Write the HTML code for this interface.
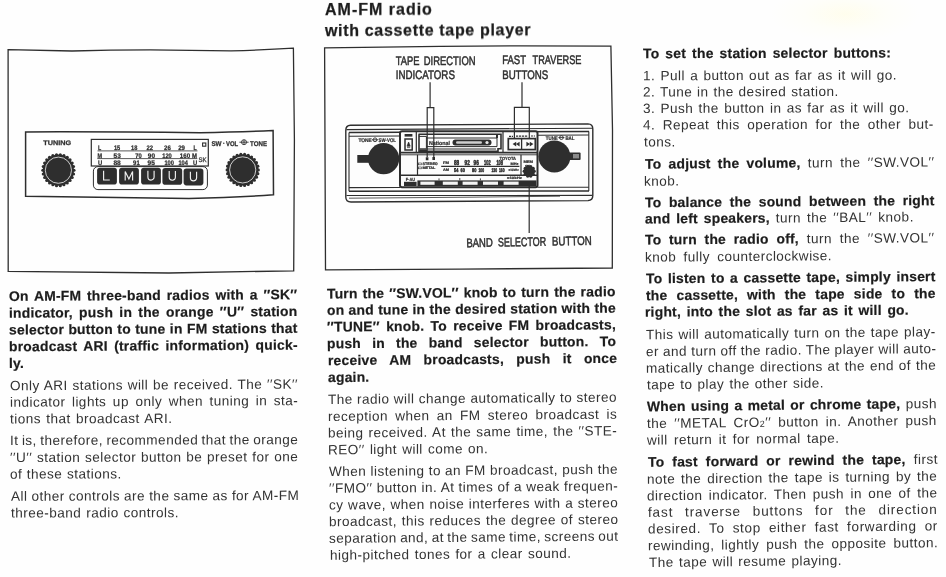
<!DOCTYPE html>
<html><head><meta charset="utf-8"><title>AM-FM radio with cassette tape player</title>
<style>
html,body{margin:0;padding:0;}
body{width:946px;height:577px;position:relative;overflow:hidden;background:#fefefe;font-family:"Liberation Sans",sans-serif;color:#333;}
.l{position:absolute;white-space:nowrap;font-size:13.6px;line-height:16px;height:16px;letter-spacing:calc(.45px + var(--d,0px));word-spacing:var(--w,.9px);}
.j{text-align:justify;text-align-last:justify;}
.l b{font-weight:bold;color:#1c1c1c;font-size:13.9px;letter-spacing:calc(.22px + var(--d,0px));-webkit-text-stroke:.2px #1c1c1c;line-height:0;}
.sub{font-size:9px;}
.h{position:absolute;left:325.3px;font-weight:bold;font-size:16px;line-height:20px;white-space:nowrap;color:#1c1c1c;transform-origin:0 15px;transform:rotate(-0.2deg);will-change:transform;-webkit-text-stroke:.25px #1c1c1c;}
svg{position:absolute;left:0;top:0;}
</style></head><body>
<div class="smudge" style="position:absolute;left:770px;top:-14px;width:150px;height:56px;background:radial-gradient(ellipse closest-side at 50% 50%,rgba(255,253,230,0.7),rgba(255,254,240,0.35) 55%,rgba(255,255,255,0) 100%);"></div>
<div class="h" style="top:-0.5px;letter-spacing:1px">AM-FM radio</div>
<div class="h" style="top:21px;letter-spacing:.67px">with cassette tape player</div>

<svg width="946" height="577" viewBox="0 0 946 577" font-family="Liberation Sans, sans-serif" style="will-change:transform" text-rendering="geometricPrecision">
<g id="leftart" fill="none" stroke="#2e2e2e" stroke-width="1.3" stroke-linejoin="miter">
<path d="M8.1,49.6 Q40,50.2 72,51 Q110,50 150,49.9 Q195,50.4 231,50.9 Q265,50 293.4,48.2 L294.4,140 L293.7,270.8 Q230,272.2 169,273 Q90,272.4 8.2,271.4 Z"/>
<path stroke-width="1.5" d="M25.6,131.9 Q110,131.6 200,132.8 Q240,132 273.1,130.6 L273.5,194.8 Q235,197.6 189,198.4 Q100,197.4 25.6,196.3 Z"/>
<rect x="91.3" y="139.4" width="117" height="26.6" stroke-width="1.2"/>
<rect x="93.4" y="166.6" width="114" height="23" rx="4.5" ry="4.5" stroke-width="1"/>
</g>
<rect x="97.1" y="167.8" width="19.8" height="16.8" rx="2.8" ry="2.8" fill="#2e2e2e"/>
<rect x="119.1" y="167.8" width="19.8" height="16.8" rx="2.8" ry="2.8" fill="#2e2e2e"/>
<rect x="141.1" y="167.8" width="19.8" height="16.8" rx="2.8" ry="2.8" fill="#2e2e2e"/>
<rect x="162.4" y="167.9" width="19.8" height="16.8" rx="2.8" ry="2.8" fill="#2e2e2e"/>
<rect x="183.6" y="168.6" width="19.8" height="16.8" rx="2.8" ry="2.8" fill="#2e2e2e"/>
<g fill="none" stroke="#f0f0f0" stroke-width="1.15" stroke-linecap="square" stroke-linejoin="miter">
<path d="M103.6,171.4 v8.6 h5.6"/>
<path d="M125.2,180.0 v-8.6 l3.7,7.6 l3.7,-7.6 v8.6"/>
<path d="M147.9,171.4 v5.6 a3.1,3.1 0 0 0 6.2,0 v-5.6"/>
<path d="M169.2,171.5 v5.6 a3.1,3.1 0 0 0 6.2,0 v-5.6"/>
<path d="M190.4,172.2 v5.6 a3.1,3.1 0 0 0 6.2,0 v-5.6"/>
</g>
<circle cx="58.4" cy="170.2" r="15.6" fill="#2e2e2e"/>
<circle cx="74.00" cy="170.20" r="1.55" fill="#2e2e2e"/>
<circle cx="73.55" cy="173.93" r="1.55" fill="#2e2e2e"/>
<circle cx="72.21" cy="177.45" r="1.55" fill="#2e2e2e"/>
<circle cx="70.08" cy="180.54" r="1.55" fill="#2e2e2e"/>
<circle cx="67.26" cy="183.04" r="1.55" fill="#2e2e2e"/>
<circle cx="63.93" cy="184.79" r="1.55" fill="#2e2e2e"/>
<circle cx="60.28" cy="185.69" r="1.55" fill="#2e2e2e"/>
<circle cx="56.52" cy="185.69" r="1.55" fill="#2e2e2e"/>
<circle cx="52.87" cy="184.79" r="1.55" fill="#2e2e2e"/>
<circle cx="49.54" cy="183.04" r="1.55" fill="#2e2e2e"/>
<circle cx="46.72" cy="180.54" r="1.55" fill="#2e2e2e"/>
<circle cx="44.59" cy="177.45" r="1.55" fill="#2e2e2e"/>
<circle cx="43.25" cy="173.93" r="1.55" fill="#2e2e2e"/>
<circle cx="42.80" cy="170.20" r="1.55" fill="#2e2e2e"/>
<circle cx="43.25" cy="166.47" r="1.55" fill="#2e2e2e"/>
<circle cx="44.59" cy="162.95" r="1.55" fill="#2e2e2e"/>
<circle cx="46.72" cy="159.86" r="1.55" fill="#2e2e2e"/>
<circle cx="49.54" cy="157.36" r="1.55" fill="#2e2e2e"/>
<circle cx="52.87" cy="155.61" r="1.55" fill="#2e2e2e"/>
<circle cx="56.52" cy="154.71" r="1.55" fill="#2e2e2e"/>
<circle cx="60.28" cy="154.71" r="1.55" fill="#2e2e2e"/>
<circle cx="63.93" cy="155.61" r="1.55" fill="#2e2e2e"/>
<circle cx="67.26" cy="157.36" r="1.55" fill="#2e2e2e"/>
<circle cx="70.08" cy="159.86" r="1.55" fill="#2e2e2e"/>
<circle cx="72.21" cy="162.95" r="1.55" fill="#2e2e2e"/>
<circle cx="73.55" cy="166.47" r="1.55" fill="#2e2e2e"/>
<circle cx="58.4" cy="170.2" r="13.1" fill="none" stroke="#f4f4f4" stroke-width="0.8"/>
<circle cx="242.7" cy="169.9" r="15.6" fill="#2e2e2e"/>
<circle cx="258.30" cy="169.90" r="1.55" fill="#2e2e2e"/>
<circle cx="257.85" cy="173.63" r="1.55" fill="#2e2e2e"/>
<circle cx="256.51" cy="177.15" r="1.55" fill="#2e2e2e"/>
<circle cx="254.38" cy="180.24" r="1.55" fill="#2e2e2e"/>
<circle cx="251.56" cy="182.74" r="1.55" fill="#2e2e2e"/>
<circle cx="248.23" cy="184.49" r="1.55" fill="#2e2e2e"/>
<circle cx="244.58" cy="185.39" r="1.55" fill="#2e2e2e"/>
<circle cx="240.82" cy="185.39" r="1.55" fill="#2e2e2e"/>
<circle cx="237.17" cy="184.49" r="1.55" fill="#2e2e2e"/>
<circle cx="233.84" cy="182.74" r="1.55" fill="#2e2e2e"/>
<circle cx="231.02" cy="180.24" r="1.55" fill="#2e2e2e"/>
<circle cx="228.89" cy="177.15" r="1.55" fill="#2e2e2e"/>
<circle cx="227.55" cy="173.63" r="1.55" fill="#2e2e2e"/>
<circle cx="227.10" cy="169.90" r="1.55" fill="#2e2e2e"/>
<circle cx="227.55" cy="166.17" r="1.55" fill="#2e2e2e"/>
<circle cx="228.89" cy="162.65" r="1.55" fill="#2e2e2e"/>
<circle cx="231.02" cy="159.56" r="1.55" fill="#2e2e2e"/>
<circle cx="233.84" cy="157.06" r="1.55" fill="#2e2e2e"/>
<circle cx="237.17" cy="155.31" r="1.55" fill="#2e2e2e"/>
<circle cx="240.82" cy="154.41" r="1.55" fill="#2e2e2e"/>
<circle cx="244.58" cy="154.41" r="1.55" fill="#2e2e2e"/>
<circle cx="248.23" cy="155.31" r="1.55" fill="#2e2e2e"/>
<circle cx="251.56" cy="157.06" r="1.55" fill="#2e2e2e"/>
<circle cx="254.38" cy="159.56" r="1.55" fill="#2e2e2e"/>
<circle cx="256.51" cy="162.65" r="1.55" fill="#2e2e2e"/>
<circle cx="257.85" cy="166.17" r="1.55" fill="#2e2e2e"/>
<circle cx="242.7" cy="169.9" r="13.1" fill="none" stroke="#f4f4f4" stroke-width="0.8"/>
<g font-family="Liberation Sans, sans-serif">
<text x="43.2" y="145.3" font-size="6.6" font-weight="bold" text-anchor="start" fill="#2e2e2e" stroke="#2e2e2e" stroke-width="0.25" textLength="27.9" lengthAdjust="spacingAndGlyphs" >TUNING</text>
<text x="211.4" y="145.8" font-size="6.8" font-weight="bold" text-anchor="start" fill="#2e2e2e" stroke="#2e2e2e" stroke-width="0.25" textLength="10.2" lengthAdjust="spacingAndGlyphs" >SW</text>
<circle cx="223.8" cy="143.2" r="0.7" fill="#2e2e2e"/>
<text x="226.0" y="145.8" font-size="6.8" font-weight="bold" text-anchor="start" fill="#2e2e2e" stroke="#2e2e2e" stroke-width="0.25" textLength="12.2" lengthAdjust="spacingAndGlyphs" >VOL</text>
<text x="250.0" y="145.8" font-size="6.8" font-weight="bold" text-anchor="start" fill="#2e2e2e" stroke="#2e2e2e" stroke-width="0.25" textLength="17.0" lengthAdjust="spacingAndGlyphs" >TONE</text>
<g stroke="#2e2e2e" fill="none" stroke-width="0.9"><circle cx="244" cy="142.2" r="2.5"/><path d="M239.4,142.2 h9.2 M244,139.9 v4.4" stroke-width="0.9"/></g>
<text x="98.1" y="149.7" font-size="6.6" font-weight="bold" text-anchor="start" fill="#2e2e2e" stroke="#2e2e2e" stroke-width="0.25" textLength="3.2" lengthAdjust="spacingAndGlyphs" >L</text>
<text x="113.9" y="149.7" font-size="6.6" font-weight="bold" text-anchor="start" fill="#2e2e2e" stroke="#2e2e2e" stroke-width="0.25" textLength="6.3" lengthAdjust="spacingAndGlyphs" >15</text>
<text x="131.0" y="149.7" font-size="6.6" font-weight="bold" text-anchor="start" fill="#2e2e2e" stroke="#2e2e2e" stroke-width="0.25" textLength="6.3" lengthAdjust="spacingAndGlyphs" >18</text>
<text x="146.4" y="149.7" font-size="6.6" font-weight="bold" text-anchor="start" fill="#2e2e2e" stroke="#2e2e2e" stroke-width="0.25" textLength="6.6" lengthAdjust="spacingAndGlyphs" >22</text>
<text x="164.0" y="149.7" font-size="6.6" font-weight="bold" text-anchor="start" fill="#2e2e2e" stroke="#2e2e2e" stroke-width="0.25" textLength="6.8" lengthAdjust="spacingAndGlyphs" >26</text>
<text x="178.2" y="149.7" font-size="6.6" font-weight="bold" text-anchor="start" fill="#2e2e2e" stroke="#2e2e2e" stroke-width="0.25" textLength="6.8" lengthAdjust="spacingAndGlyphs" >29</text>
<text x="193.6" y="149.7" font-size="6.6" font-weight="bold" text-anchor="start" fill="#2e2e2e" stroke="#2e2e2e" stroke-width="0.25" textLength="3.2" lengthAdjust="spacingAndGlyphs" >L</text>
<text x="97.6" y="157.5" font-size="6.6" font-weight="bold" text-anchor="start" fill="#2e2e2e" stroke="#2e2e2e" stroke-width="0.25" textLength="4.6" lengthAdjust="spacingAndGlyphs" >M</text>
<text x="113.6" y="157.5" font-size="6.6" font-weight="bold" text-anchor="start" fill="#2e2e2e" stroke="#2e2e2e" stroke-width="0.25" textLength="7.2" lengthAdjust="spacingAndGlyphs" >53</text>
<text x="135.2" y="157.5" font-size="6.6" font-weight="bold" text-anchor="start" fill="#2e2e2e" stroke="#2e2e2e" stroke-width="0.25" textLength="6.5" lengthAdjust="spacingAndGlyphs" >70</text>
<text x="147.8" y="157.5" font-size="6.6" font-weight="bold" text-anchor="start" fill="#2e2e2e" stroke="#2e2e2e" stroke-width="0.25" textLength="7.2" lengthAdjust="spacingAndGlyphs" >90</text>
<text x="162.2" y="157.5" font-size="6.6" font-weight="bold" text-anchor="start" fill="#2e2e2e" stroke="#2e2e2e" stroke-width="0.25" textLength="9.6" lengthAdjust="spacingAndGlyphs" >120</text>
<text x="179.8" y="157.5" font-size="6.6" font-weight="bold" text-anchor="start" fill="#2e2e2e" stroke="#2e2e2e" stroke-width="0.25" textLength="10.3" lengthAdjust="spacingAndGlyphs" >160</text>
<text x="191.9" y="157.5" font-size="6.6" font-weight="bold" text-anchor="start" fill="#2e2e2e" stroke="#2e2e2e" stroke-width="0.25" textLength="5.0" lengthAdjust="spacingAndGlyphs" >M</text>
<text x="98.0" y="165.0" font-size="6.6" font-weight="bold" text-anchor="start" fill="#2e2e2e" stroke="#2e2e2e" stroke-width="0.25" textLength="4.2" lengthAdjust="spacingAndGlyphs" >U</text>
<text x="113.4" y="165.0" font-size="6.6" font-weight="bold" text-anchor="start" fill="#2e2e2e" stroke="#2e2e2e" stroke-width="0.25" textLength="7.4" lengthAdjust="spacingAndGlyphs" >88</text>
<text x="133.1" y="165.0" font-size="6.6" font-weight="bold" text-anchor="start" fill="#2e2e2e" stroke="#2e2e2e" stroke-width="0.25" textLength="6.6" lengthAdjust="spacingAndGlyphs" >91</text>
<text x="147.5" y="165.0" font-size="6.6" font-weight="bold" text-anchor="start" fill="#2e2e2e" stroke="#2e2e2e" stroke-width="0.25" textLength="7.3" lengthAdjust="spacingAndGlyphs" >95</text>
<text x="164.4" y="165.0" font-size="6.6" font-weight="bold" text-anchor="start" fill="#2e2e2e" stroke="#2e2e2e" stroke-width="0.25" textLength="9.6" lengthAdjust="spacingAndGlyphs" >100</text>
<text x="178.4" y="165.0" font-size="6.6" font-weight="bold" text-anchor="start" fill="#2e2e2e" stroke="#2e2e2e" stroke-width="0.25" textLength="9.4" lengthAdjust="spacingAndGlyphs" >104</text>
<text x="192.9" y="165.0" font-size="6.6" font-weight="bold" text-anchor="start" fill="#2e2e2e" stroke="#2e2e2e" stroke-width="0.25" textLength="4.2" lengthAdjust="spacingAndGlyphs" >U</text>
<text x="198.5" y="161.9" font-size="6.6" font-weight="normal" text-anchor="start" fill="#2e2e2e" stroke="#2e2e2e" stroke-width="0.25" textLength="8.2" lengthAdjust="spacingAndGlyphs" >SK</text>
</g>
<g stroke="#2e2e2e" stroke-width="0.8" fill="none"><path d="M97.5,150.9 H197.5 M97.3,158.6 H197.3"/><rect x="202.6" y="143" width="3.2" height="3.2" stroke-width="1.1"/></g>
<g id="midart" fill="none" stroke="#2e2e2e" stroke-width="1.3">
<path d="M324.6,47.8 L440,46.3 L520,45.8 L610.9,46.2 L612.5,130 L612.3,268 L460,269.1 L325.5,269.8 Z"/>
</g>
<g fill="none" stroke="#2e2e2e" stroke-width="1.1">
<path fill="#fdfdfd" stroke-width="1.4" d="M350.5,125.3 L588,123.9 Q592.8,124 592.8,129 L592.8,195.5 Q592.8,200.4 588,200.6 L351,202 Q345.8,202 345.8,197 L345.8,130.5 Q345.8,125.4 350.5,125.3 Z"/>
<path d="M346.5,129.6 L592,128.2"/>
<path stroke-width="1.5" d="M349,132.5 L589,131.4"/>
<path d="M349,136.2 L400,136 M537.5,135.2 L588.8,135"/>
<path d="M349,187.6 L400,187.5 M537.5,187.3 L588.8,187.2"/>
<path stroke-width="1.5" d="M349,191.2 L589,190.9"/>
<path d="M346.5,195.5 L592,195.4"/>
<path stroke-width="0.8" d="M349,198.2 L470,197.2 L560,196.2"/>
<path d="M349,132.5 V191.2 M588.8,131.4 V190.9"/>
</g>
<g fill="#2e2e2e" stroke="none">
<rect x="357.3" y="155" width="14" height="7.8"/>
<circle cx="383.6" cy="158.7" r="15.6"/>
<circle cx="554.4" cy="156.5" r="16"/>
<rect x="566" y="152.5" width="14.6" height="7.4" rx="1"/>
<rect x="573" y="154" width="6" height="4.4" fill="#8a8a8a"/>
</g>
<g stroke="#2e2e2e" fill="none">
<rect x="400" y="131.2" width="137.5" height="56" rx="2" fill="#fcfcfc" stroke-width="2"/>
<path stroke-width="1.6" d="M400,152.6 H537.5"/>
<path stroke-width="0.9" d="M400,154.8 H537.5"/>
<path stroke-width="1.4" d="M400,175.2 H537.5"/>
<path stroke-width="1.2" d="M416.3,131.2 V152 M417.5,154.8 V175 M503,131.2 V152.6 M521,154.8 V175.2"/>
<rect x="404.6" y="134" width="7.8" height="2.6" fill="#2e2e2e" stroke="none"/>
<rect x="405" y="139" width="7.2" height="11" stroke-width="1.5"/>
<path d="M408.6,142 l1.6,4.2 h-3.2 z M407,147.6 h3.2" fill="#2e2e2e" stroke-width="0.7"/>
<path stroke-width="1.6" d="M418.5,134.2 H501 V148.8 H498 V151.2 H419 V134.2"/>
<path stroke-width="1" d="M419,136.4 H426.4 V148.8 H419.5 M426.4,138 H497 V146.6 H426.4 M427,149 H496"/>
<path stroke-width="2" d="M419.6,150.2 H427 M497,134.8 V138"/>
</g>
<text x="429.0" y="145.0" font-size="5.6" font-weight="bold" fill="#2e2e2e" textLength="21.0" lengthAdjust="spacingAndGlyphs"  stroke="#2e2e2e" stroke-width="0.22">National</text>
<rect x="452.5" y="139.6" width="39" height="5.8" rx="2.9" fill="#2e2e2e"/>
<rect x="456" y="141.2" width="26" height="2.6" rx="1.3" fill="#cfcfcf"/>
<circle cx="487" cy="142.5" r="1.6" fill="#e8e8e8"/>
<g stroke="#2e2e2e" fill="none">
<rect x="508.3" y="138.6" width="27" height="11" stroke-width="1.7"/>
<path stroke-width="1.3" d="M521.6,138.6 V149.6"/>
<path stroke="none" fill="#2e2e2e" d="M516.2,141.8 v4.6 l-3.6,-2.3z M519.6,141.8 v4.6 l-3.6,-2.3z M526.4,141.8 v4.6 l3.6,-2.3z M529.8,141.8 v4.6 l3.6,-2.3z"/>
<path stroke-width="1.2" d="M509,136.4 h4 M516,136.2 h12 M531,136 h4" stroke-dasharray="2.2 0.8"/>
</g>
<path d="M425.8,157.2 h2.6 v3 h-2.6z M432.4,157 h2.6 v3 h-2.6z" fill="#2e2e2e"/>
<rect x="418.6" y="163" width="3" height="1.8" fill="none" stroke="#2e2e2e" stroke-width="0.6"/>
<rect x="418.6" y="167" width="3" height="1.8" fill="none" stroke="#2e2e2e" stroke-width="0.6"/>
<text x="422.4" y="165.4" font-size="3.6" font-weight="bold" fill="#2e2e2e" textLength="15.4" lengthAdjust="spacingAndGlyphs"  stroke="#2e2e2e" stroke-width="0.22">STEREO</text>
<text x="422.4" y="169.4" font-size="3.6" font-weight="bold" fill="#2e2e2e" textLength="13.0" lengthAdjust="spacingAndGlyphs"  stroke="#2e2e2e" stroke-width="0.22">METAL</text>
<text x="443.0" y="164.4" font-size="3.8" font-weight="bold" fill="#2e2e2e" textLength="6.0" lengthAdjust="spacingAndGlyphs"  stroke="#2e2e2e" stroke-width="0.22">FM</text>
<text x="454.0" y="164.8" font-size="7.2" font-weight="bold" fill="#2e2e2e" textLength="5.2" lengthAdjust="spacingAndGlyphs"  stroke-width="0.55" stroke="#2e2e2e">88</text>
<text x="464.6" y="164.8" font-size="7.2" font-weight="bold" fill="#2e2e2e" textLength="5.2" lengthAdjust="spacingAndGlyphs"  stroke-width="0.55" stroke="#2e2e2e">92</text>
<text x="473.6" y="164.8" font-size="7.2" font-weight="bold" fill="#2e2e2e" textLength="5.2" lengthAdjust="spacingAndGlyphs"  stroke-width="0.55" stroke="#2e2e2e">96</text>
<text x="484.0" y="164.8" font-size="7.2" font-weight="bold" fill="#2e2e2e" textLength="6.6" lengthAdjust="spacingAndGlyphs"  stroke-width="0.55" stroke="#2e2e2e">102</text>
<text x="496.4" y="164.8" font-size="7.2" font-weight="bold" fill="#2e2e2e" textLength="6.6" lengthAdjust="spacingAndGlyphs"  stroke-width="0.55" stroke="#2e2e2e">108</text>
<text x="510.4" y="164.6" font-size="3.6" font-weight="bold" fill="#2e2e2e" textLength="8.0" lengthAdjust="spacingAndGlyphs"  stroke="#2e2e2e" stroke-width="0.22">MHz</text>
<path d="M441.2,166.4 H519.4" stroke="#2e2e2e" stroke-width="1.3"/>
<text x="443.0" y="171.2" font-size="3.8" font-weight="bold" fill="#2e2e2e" textLength="6.0" lengthAdjust="spacingAndGlyphs"  stroke="#2e2e2e" stroke-width="0.22">AM</text>
<text x="454.0" y="172.0" font-size="5.4" font-weight="bold" fill="#2e2e2e" textLength="4.3" lengthAdjust="spacingAndGlyphs"  stroke-width="0.45" stroke="#2e2e2e">54</text>
<text x="460.5" y="172.0" font-size="5.4" font-weight="bold" fill="#2e2e2e" textLength="4.3" lengthAdjust="spacingAndGlyphs"  stroke-width="0.45" stroke="#2e2e2e">60</text>
<text x="472.0" y="172.0" font-size="5.4" font-weight="bold" fill="#2e2e2e" textLength="4.3" lengthAdjust="spacingAndGlyphs"  stroke-width="0.45" stroke="#2e2e2e">80</text>
<text x="478.5" y="172.0" font-size="5.4" font-weight="bold" fill="#2e2e2e" textLength="5.6" lengthAdjust="spacingAndGlyphs"  stroke-width="0.45" stroke="#2e2e2e">100</text>
<text x="491.5" y="172.0" font-size="5.4" font-weight="bold" fill="#2e2e2e" textLength="5.6" lengthAdjust="spacingAndGlyphs"  stroke-width="0.45" stroke="#2e2e2e">130</text>
<text x="499.0" y="172.0" font-size="5.4" font-weight="bold" fill="#2e2e2e" textLength="5.6" lengthAdjust="spacingAndGlyphs"  stroke-width="0.45" stroke="#2e2e2e">160</text>
<text x="508.6" y="171.4" font-size="3.4" font-weight="bold" fill="#2e2e2e" textLength="10.0" lengthAdjust="spacingAndGlyphs"  stroke="#2e2e2e" stroke-width="0.22">x10kHz</text>
<text x="499.6" y="159.8" font-size="4.4" font-weight="bold" fill="#2e2e2e" textLength="16.4" lengthAdjust="spacingAndGlyphs"  stroke="#2e2e2e" stroke-width="0.22">TOYOTA</text>
<text x="523.4" y="163.2" font-size="3.8" font-weight="bold" fill="#2e2e2e" textLength="9.6" lengthAdjust="spacingAndGlyphs"  stroke="#2e2e2e" stroke-width="0.22">MEM</text>
<text x="525.0" y="166.6" font-size="3.0" font-weight="bold" fill="#2e2e2e" textLength="5.0" lengthAdjust="spacingAndGlyphs"  stroke="#2e2e2e" stroke-width="0.22">ON</text>
<g fill="#2e2e2e"><circle cx="529.2" cy="171.3" r="5.4"/><circle cx="534.10" cy="171.30" r="1.7"/><circle cx="533.16" cy="174.18" r="1.7"/><circle cx="530.71" cy="175.96" r="1.7"/><circle cx="527.69" cy="175.96" r="1.7"/><circle cx="525.24" cy="174.18" r="1.7"/><circle cx="524.30" cy="171.30" r="1.7"/><circle cx="525.24" cy="168.42" r="1.7"/><circle cx="527.69" cy="166.64" r="1.7"/><circle cx="530.71" cy="166.64" r="1.7"/><circle cx="533.16" cy="168.42" r="1.7"/></g>
<text x="405.8" y="180.6" font-size="4.4" font-weight="bold" fill="#2e2e2e" textLength="9.2" lengthAdjust="spacingAndGlyphs"  stroke="#2e2e2e" stroke-width="0.22">F·AU</text>
<rect x="404" y="181.8" width="12.6" height="4.2" fill="#2e2e2e"/>
<rect x="417.4" y="180.4" width="119" height="6" fill="#2e2e2e"/>
<rect x="420.4" y="181.6" width="14.2" height="3.2" fill="#f3f3f3"/>
<rect x="442.8" y="181.6" width="15.0" height="3.2" fill="#f3f3f3"/>
<rect x="462.6" y="181.6" width="15.0" height="3.2" fill="#f3f3f3"/>
<rect x="483.0" y="181.6" width="15.0" height="3.2" fill="#f3f3f3"/>
<rect x="503.6" y="181.6" width="15.0" height="3.2" fill="#f3f3f3"/>
<path d="M439,178.4 v2 M459.8,178 v2.4 M480.4,178.4 v2" stroke="#2e2e2e" stroke-width="0.9"/>
<text x="507.0" y="179.2" font-size="3.4" font-weight="bold" fill="#2e2e2e" textLength="15.0" lengthAdjust="spacingAndGlyphs"  stroke="#2e2e2e" stroke-width="0.22">x10kHz</text>
<text x="358.4" y="141.8" font-size="5.2" font-weight="bold" fill="#2e2e2e" textLength="13.4" lengthAdjust="spacingAndGlyphs"  stroke="#2e2e2e" stroke-width="0.22">TONE</text>
<g stroke="#2e2e2e" fill="none" stroke-width="0.9"><circle cx="375" cy="139.8" r="1.9"/><path d="M372,139.8 h6"/></g>
<text x="378.6" y="141.8" font-size="5.2" font-weight="bold" fill="#2e2e2e" textLength="17.4" lengthAdjust="spacingAndGlyphs"  stroke="#2e2e2e" stroke-width="0.22">SW·VOL</text>
<text x="545.8" y="139.6" font-size="5.2" font-weight="bold" fill="#2e2e2e" textLength="12.0" lengthAdjust="spacingAndGlyphs"  stroke="#2e2e2e" stroke-width="0.22">TUNE</text>
<g stroke="#2e2e2e" fill="none" stroke-width="0.9"><circle cx="561.4" cy="137.6" r="1.9"/><path d="M558.4,137.6 h6"/></g>
<text x="565.4" y="139.5" font-size="5.2" font-weight="bold" fill="#2e2e2e" textLength="9.2" lengthAdjust="spacingAndGlyphs"  stroke="#2e2e2e" stroke-width="0.22">BAL</text>
<g fill="none" stroke="#2e2e2e" stroke-width="1.2">
<path stroke-width="1.2" d="M430.1,82.3 V107.6 M427.2,157 V107.6 H433.8 V157"/>
<path stroke-width="1.2" d="M522,82.3 V107.3 M514.4,139 V107.3 H529.3 V139"/>
<path stroke-width="1.2" d="M529.2,186 V233"/>
</g>
<text x="395.7" y="64.5" font-size="12.4" font-weight="normal" fill="#2e2e2e" textLength="23.7" lengthAdjust="spacingAndGlyphs"  stroke="#2e2e2e" stroke-width="0.5">TAPE</text>
<text x="423.8" y="64.5" font-size="12.4" font-weight="normal" fill="#2e2e2e" textLength="51.8" lengthAdjust="spacingAndGlyphs"  stroke="#2e2e2e" stroke-width="0.5">DIRECTION</text>
<text x="395.7" y="79.4" font-size="12.4" font-weight="normal" fill="#2e2e2e" textLength="59.2" lengthAdjust="spacingAndGlyphs"  stroke="#2e2e2e" stroke-width="0.5">INDICATORS</text>
<text x="502.2" y="64.3" font-size="12.4" font-weight="normal" fill="#2e2e2e" textLength="23.8" lengthAdjust="spacingAndGlyphs"  stroke="#2e2e2e" stroke-width="0.5">FAST</text>
<text x="532.6" y="64.3" font-size="12.4" font-weight="normal" fill="#2e2e2e" textLength="48.8" lengthAdjust="spacingAndGlyphs"  stroke="#2e2e2e" stroke-width="0.5">TRAVERSE</text>
<text x="502.2" y="79.4" font-size="12.4" font-weight="normal" fill="#2e2e2e" textLength="46.0" lengthAdjust="spacingAndGlyphs"  stroke="#2e2e2e" stroke-width="0.5">BUTTONS</text>
<g transform="rotate(-1.1 466 247)">
<text x="466.4" y="247.2" font-size="12.4" font-weight="normal" fill="#2e2e2e" textLength="26.5" lengthAdjust="spacingAndGlyphs"  stroke="#2e2e2e" stroke-width="0.5">BAND</text>
<text x="498.1" y="247.2" font-size="12.4" font-weight="normal" fill="#2e2e2e" textLength="48.2" lengthAdjust="spacingAndGlyphs"  stroke="#2e2e2e" stroke-width="0.5">SELECTOR</text>
<text x="552.0" y="247.2" font-size="12.4" font-weight="normal" fill="#2e2e2e" textLength="39.8" lengthAdjust="spacingAndGlyphs"  stroke="#2e2e2e" stroke-width="0.5">BUTTON</text>
</g>
</svg>
<div class="l j" id="t0" style="left:8.90px;top:287.50px;transform-origin:0 12.50px;transform:translateY(0.90px) rotate(-0.336deg);width:288.41px;"><b>On AM-FM three-band radios with a ′′SK′′</b></div>
<div class="l j" id="t1" style="left:8.90px;top:304.50px;transform-origin:0 12.50px;transform:translateY(0.70px) rotate(-0.336deg);width:288.52px;"><b>indicator, push in the orange ′′U′′ station</b></div>
<div class="l j" id="t2" style="left:8.90px;top:321.50px;transform-origin:0 12.50px;transform:translateY(0.50px) rotate(-0.336deg);width:288.64px;--d:0.000px;--w:0.251px;"><b>selector button to tune in FM stations that</b></div>
<div class="l j" id="t3" style="left:8.90px;top:338.50px;transform-origin:0 12.50px;transform:translateY(0.30px) rotate(-0.336deg);width:288.76px;"><b>broadcast ARI (traffic information) quick-</b></div>
<div class="l" id="t4" style="left:9.30px;top:355.50px;transform-origin:0 12.50px;transform:translateY(0.10px) rotate(-0.336deg);"><b>ly.</b></div>
<div class="l j" id="t5" style="left:9.90px;top:377.50px;transform-origin:0 12.50px;transform:translateY(0.30px) rotate(-0.336deg);width:288.03px;--d:0.000px;--w:0.447px;">Only ARI stations will be received. The ′′SK′′</div>
<div class="l j" id="t6" style="left:9.90px;top:393.50px;transform-origin:0 12.50px;transform:translateY(0.80px) rotate(-0.336deg);width:288.15px;">indicator lights up only when tuning in sta-</div>
<div class="l j" id="t7" style="left:10.00px;top:410.50px;transform-origin:0 12.50px;transform:translateY(0.40px) rotate(-0.158deg);width:162.50px;">tions that broadcast ARI.</div>
<div class="l j" id="t8" style="left:10.10px;top:432.50px;transform-origin:0 12.50px;transform:translateY(0.00px) rotate(-0.158deg);width:288.21px;--d:-0.008px;--w:-0.800px;">It is, therefore, recommended that the orange</div>
<div class="l j" id="t9" style="left:10.10px;top:449.50px;transform-origin:0 12.50px;transform:translateY(0.10px) rotate(-0.158deg);width:288.33px;--d:0.000px;--w:0.499px;">′′U′′ station selector button be preset for one</div>
<div class="l j" id="t10" style="left:10.20px;top:465.50px;transform-origin:0 12.50px;transform:translateY(0.70px) rotate(-0.158deg);width:111.70px;--d:0.000px;--w:0.242px;">of these stations.</div>
<div class="l j" id="t11" style="left:10.50px;top:487.50px;transform-origin:0 12.50px;transform:translateY(0.80px) rotate(-0.158deg);width:288.21px;--d:0.000px;--w:-0.206px;">All other controls are the same as for AM-FM</div>
<div class="l j" id="t12" style="left:10.60px;top:504.50px;transform-origin:0 12.50px;transform:translateY(0.60px) rotate(-0.158deg);width:168.00px;--d:0.000px;--w:0.517px;">three-band radio controls.</div>
<div class="l j" id="t13" style="left:327.20px;top:285.50px;transform-origin:0 12.50px;transform:translateY(0.50px) rotate(-0.454deg);width:288.71px;--d:0.000px;--w:0.848px;"><b>Turn the ′′SW.VOL′′ knob to turn the radio</b></div>
<div class="l j" id="t14" style="left:327.20px;top:301.50px;transform-origin:0 12.50px;transform:translateY(0.90px) rotate(-0.454deg);width:288.90px;--d:0.000px;--w:0.052px;"><b>on and tune in the desired station with the</b></div>
<div class="l j" id="t15" style="left:327.30px;top:318.50px;transform-origin:0 12.50px;transform:translateY(0.60px) rotate(-0.454deg);width:289.00px;"><b>′′TUNE′′ knob. To receive FM broadcasts,</b></div>
<div class="l j" id="t16" style="left:327.40px;top:335.50px;transform-origin:0 12.50px;transform:translateY(0.30px) rotate(-0.454deg);width:289.10px;"><b>push in the band selector button. To</b></div>
<div class="l j" id="t17" style="left:327.50px;top:352.50px;transform-origin:0 12.50px;transform:translateY(0.20px) rotate(-0.454deg);width:289.21px;"><b>receive AM broadcasts, push it once</b></div>
<div class="l" id="t18" style="left:327.70px;top:369.50px;transform-origin:0 12.50px;transform:translateY(0.10px) rotate(-0.454deg);"><b>again.</b></div>
<div class="l j" id="t19" style="left:328.20px;top:391.50px;transform-origin:0 12.50px;transform:translateY(0.00px) rotate(-0.454deg);width:288.97px;--d:0.000px;--w:0.010px;">The radio will change automatically to stereo</div>
<div class="l j" id="t20" style="left:328.20px;top:408.50px;transform-origin:0 12.50px;transform:translateY(0.00px) rotate(-0.454deg);width:289.18px;">reception when an FM stereo broadcast is</div>
<div class="l j" id="t21" style="left:328.30px;top:424.50px;transform-origin:0 12.50px;transform:translateY(0.60px) rotate(-0.454deg);width:289.28px;--d:0.000px;--w:0.793px;">being received. At the same time, the ′′STE-</div>
<div class="l j" id="t22" style="left:328.40px;top:441.50px;transform-origin:0 12.50px;transform:translateY(0.40px) rotate(-0.454deg);width:160.30px;--d:0.000px;--w:0.752px;">REO′′ light will come on.</div>
<div class="l j" id="t23" style="left:329.00px;top:463.50px;transform-origin:0 12.50px;transform:translateY(0.10px) rotate(-0.454deg);width:289.04px;--d:0.000px;--w:-0.071px;">When listening to an FM broadcast, push the</div>
<div class="l j" id="t24" style="left:329.00px;top:479.50px;transform-origin:0 12.50px;transform:translateY(0.80px) rotate(-0.454deg);width:289.24px;--d:0.000px;--w:-0.060px;">′′FMO′′ button in. At times of a weak frequen-</div>
<div class="l j" id="t25" style="left:329.10px;top:496.50px;transform-origin:0 12.50px;transform:translateY(0.60px) rotate(-0.454deg);width:289.34px;--d:0.000px;--w:0.342px;">cy wave, when noise interferes with a stereo</div>
<div class="l j" id="t26" style="left:329.20px;top:513.50px;transform-origin:0 12.50px;transform:translateY(0.20px) rotate(-0.454deg);width:289.44px;--d:0.000px;--w:0.537px;">broadcast, this reduces the degree of stereo</div>
<div class="l j" id="t27" style="left:329.30px;top:529.50px;transform-origin:0 12.50px;transform:translateY(0.90px) rotate(-0.454deg);width:289.54px;--d:-0.030px;--w:-0.800px;">separation and, at the same time, screens out</div>
<div class="l j" id="t28" style="left:329.50px;top:546.50px;transform-origin:0 12.50px;transform:translateY(0.70px) rotate(-0.454deg);width:241.50px;">high-pitched tones for a clear sound.</div>
<div class="l j" id="t29" style="left:643.30px;top:45.50px;transform-origin:0 12.50px;transform:translateY(0.20px) rotate(-0.158deg);width:248.00px;"><b>To set the station selector buttons:</b></div>
<div class="l j" id="t30" style="left:643.20px;top:67.50px;transform-origin:0 12.50px;transform:translateY(0.30px) rotate(-0.158deg);width:254.10px;">1. Pull a button out as far as it will go.</div>
<div class="l j" id="t31" style="left:642.80px;top:83.50px;transform-origin:0 12.50px;transform:translateY(0.60px) rotate(-0.158deg);width:195.70px;--d:0.000px;--w:0.612px;">2. Tune in the desired station.</div>
<div class="l j" id="t32" style="left:642.80px;top:100.50px;transform-origin:0 12.50px;transform:translateY(0.00px) rotate(-0.158deg);width:266.50px;">3. Push the button in as far as it will go.</div>
<div class="l j" id="t33" style="left:642.80px;top:116.50px;transform-origin:0 12.50px;transform:translateY(0.50px) rotate(-0.158deg);width:290.80px;">4. Repeat this operation for the other but-</div>
<div class="l" id="t34" style="left:644.20px;top:133.50px;transform-origin:0 12.50px;transform:translateY(0.60px) rotate(-0.158deg);">tons.</div>
<div class="l j" id="t35" style="left:644.60px;top:155.50px;transform-origin:0 12.50px;transform:translateY(0.70px) rotate(-0.435deg);width:289.61px;"><b>To adjust the volume,</b> turn the ′′SW.VOL′′</div>
<div class="l" id="t36" style="left:644.00px;top:172.50px;transform-origin:0 12.50px;transform:translateY(0.80px) rotate(-0.435deg);">knob.</div>
<div class="l j" id="t37" style="left:645.00px;top:194.50px;transform-origin:0 12.50px;transform:translateY(0.30px) rotate(-0.435deg);width:289.63px;"><b>To balance the sound between the right</b></div>
<div class="l j" id="t38" style="left:644.50px;top:210.50px;transform-origin:0 12.50px;transform:translateY(0.50px) rotate(-0.435deg);width:268.90px;"><b>and left speakers,</b> turn the ′′BAL′′ knob.</div>
<div class="l j" id="t39" style="left:645.40px;top:231.50px;transform-origin:0 12.50px;transform:translateY(0.50px) rotate(-0.435deg);width:289.64px;"><b>To turn the radio off,</b> turn the ′′SW.VOL′′</div>
<div class="l j" id="t40" style="left:644.90px;top:248.50px;transform-origin:0 12.50px;transform:translateY(0.70px) rotate(-0.435deg);width:187.10px;">knob fully counterclockwise.</div>
<div class="l j" id="t41" style="left:645.90px;top:270.50px;transform-origin:0 12.50px;transform:translateY(0.30px) rotate(-0.435deg);width:289.57px;"><b>To listen to a cassette tape, simply insert</b></div>
<div class="l j" id="t42" style="left:645.90px;top:287.50px;transform-origin:0 12.50px;transform:translateY(0.20px) rotate(-0.435deg);width:289.75px;"><b>the cassette, with the tape side to the</b></div>
<div class="l j" id="t43" style="left:645.40px;top:303.50px;transform-origin:0 12.50px;transform:translateY(0.70px) rotate(-0.435deg);width:263.90px;"><b>right, into the slot as far as it will go.</b></div>
<div class="l j" id="t44" style="left:646.30px;top:326.50px;transform-origin:0 12.50px;transform:translateY(0.30px) rotate(-0.612deg);width:289.78px;--d:0.000px;--w:0.703px;">This will automatically turn on the tape play-</div>
<div class="l j" id="t45" style="left:645.80px;top:343.50px;transform-origin:0 12.50px;transform:translateY(0.20px) rotate(-0.612deg);width:290.47px;--d:0.000px;--w:-0.178px;">er and turn off the radio. The player will auto-</div>
<div class="l j" id="t46" style="left:646.20px;top:359.50px;transform-origin:0 12.50px;transform:translateY(0.80px) rotate(-0.612deg);width:290.25px;--d:0.000px;--w:0.614px;">matically change directions at the end of the</div>
<div class="l j" id="t47" style="left:647.00px;top:376.50px;transform-origin:0 12.50px;transform:translateY(0.40px) rotate(-0.612deg);width:177.00px;--d:0.000px;--w:0.745px;">tape to play the other side.</div>
<div class="l j" id="t48" style="left:646.90px;top:398.50px;transform-origin:0 12.50px;transform:translateY(0.20px) rotate(-0.612deg);width:289.97px;"><b>When using a metal or chrome tape,</b> push</div>
<div class="l j" id="t49" style="left:647.20px;top:415.50px;transform-origin:0 12.50px;transform:translateY(0.10px) rotate(-0.612deg);width:289.86px;">the ′′METAL CrO<span class="sub">2</span>′′ button in. Another push</div>
<div class="l j" id="t50" style="left:646.90px;top:431.50px;transform-origin:0 12.50px;transform:translateY(0.70px) rotate(-0.612deg);width:192.50px;">will return it for normal tape.</div>
<div class="l j" id="t51" style="left:647.60px;top:453.50px;transform-origin:0 12.50px;transform:translateY(0.80px) rotate(-0.612deg);width:289.88px;"><b>To fast forward or rewind the tape,</b> first</div>
<div class="l j" id="t52" style="left:647.30px;top:470.50px;transform-origin:0 12.50px;transform:translateY(0.80px) rotate(-0.612deg);width:290.37px;">note the direction the tape is turning by the</div>
<div class="l j" id="t53" style="left:647.40px;top:487.50px;transform-origin:0 12.50px;transform:translateY(0.40px) rotate(-0.612deg);width:290.45px;">direction indicator. Then push in one of the</div>
<div class="l j" id="t54" style="left:648.40px;top:503.50px;transform-origin:0 12.50px;transform:translateY(0.90px) rotate(-0.612deg);width:289.64px;--d:0.400px;">fast traverse buttons for the direction</div>
<div class="l j" id="t55" style="left:648.20px;top:520.50px;transform-origin:0 12.50px;transform:translateY(0.50px) rotate(-0.612deg);width:290.02px;--d:0.150px;">desired. To stop either fast forwarding or</div>
<div class="l j" id="t56" style="left:648.20px;top:537.50px;transform-origin:0 12.50px;transform:translateY(0.30px) rotate(-0.612deg);width:290.20px;">rewinding, lightly push the opposite button.</div>
<div class="l j" id="t57" style="left:649.00px;top:554.50px;transform-origin:0 12.50px;transform:translateY(0.00px) rotate(-0.612deg);width:193.00px;">The tape will resume playing.</div>
</body></html>
